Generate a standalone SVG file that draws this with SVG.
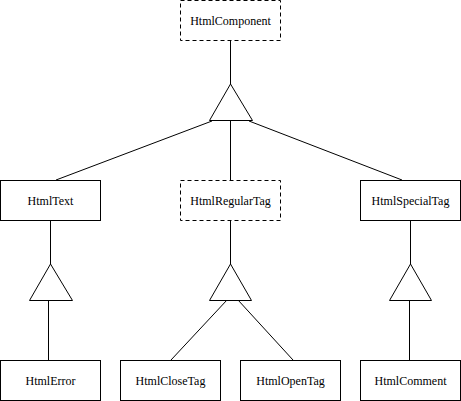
<svg xmlns="http://www.w3.org/2000/svg" width="461" height="401" viewBox="0 0 461 401">
<style>
.box{fill:#fff;stroke:#000;stroke-width:1}
.abs{stroke-dasharray:4,3}
.tri{fill:#fff;stroke:#000;stroke-width:1}
.ln{fill:none;stroke:#000;stroke-width:1}
.lbl{font-family:'Liberation Serif','Times New Roman',serif;font-size:12px;text-anchor:middle;fill:#000}
</style>
<rect width="461" height="401" fill="#fff"/>
<g id="connectors">
<line class="ln" x1="230.5" y1="40" x2="230.5" y2="84"/>
<line class="ln" x1="230.5" y1="120" x2="230.5" y2="180"/>
<line class="ln" x1="212" y1="121" x2="56" y2="180"/>
<line class="ln" x1="249" y1="121" x2="402" y2="180"/>
<polygon class="tri" points="230.5,84 209.5,120.5 252.5,120.5"/>
<line class="ln" x1="50.5" y1="220" x2="50.5" y2="264"/>
<line class="ln" x1="48.5" y1="300" x2="48.5" y2="360"/>
<polygon class="tri" points="50.5,264 29.5,300.5 72.5,300.5"/>
<line class="ln" x1="230.5" y1="220" x2="230.5" y2="264"/>
<line class="ln" x1="227" y1="300" x2="171" y2="360"/>
<line class="ln" x1="238" y1="300" x2="293" y2="360"/>
<polygon class="tri" points="230.5,264 209.5,300.5 251.5,300.5"/>
<line class="ln" x1="410.5" y1="220" x2="410.5" y2="264"/>
<line class="ln" x1="409.5" y1="300" x2="409.5" y2="360"/>
<polygon class="tri" points="410.5,264 389.5,300.5 431.5,300.5"/>
</g>
<g id="HtmlComponent"><rect class="box abs" x="180.5" y="0.5" width="100" height="40"/><text class="lbl" x="230.5" y="25" font-family="Liberation Serif, serif">HtmlComponent</text></g>
<g id="HtmlText"><rect class="box" x="0.5" y="180.5" width="100" height="40"/><text class="lbl" x="50.5" y="205">HtmlText</text></g>
<g id="HtmlRegularTag"><rect class="box abs" x="180.5" y="180.5" width="100" height="40"/><text class="lbl" x="230.5" y="205">HtmlRegularTag</text></g>
<g id="HtmlSpecialTag"><rect class="box" x="360.5" y="180.5" width="100" height="40"/><text class="lbl" x="410.5" y="205">HtmlSpecialTag</text></g>
<g id="HtmlError"><rect class="box" x="0.5" y="360.5" width="100" height="40"/><text class="lbl" x="50.5" y="385">HtmlError</text></g>
<g id="HtmlCloseTag"><rect class="box" x="120.5" y="360.5" width="100" height="40"/><text class="lbl" x="170.5" y="385">HtmlCloseTag</text></g>
<g id="HtmlOpenTag"><rect class="box" x="240.5" y="360.5" width="100" height="40"/><text class="lbl" x="290.5" y="385">HtmlOpenTag</text></g>
<g id="HtmlComment"><rect class="box" x="360.5" y="360.5" width="100" height="40"/><text class="lbl" x="410.5" y="385">HtmlComment</text></g>
</svg>
